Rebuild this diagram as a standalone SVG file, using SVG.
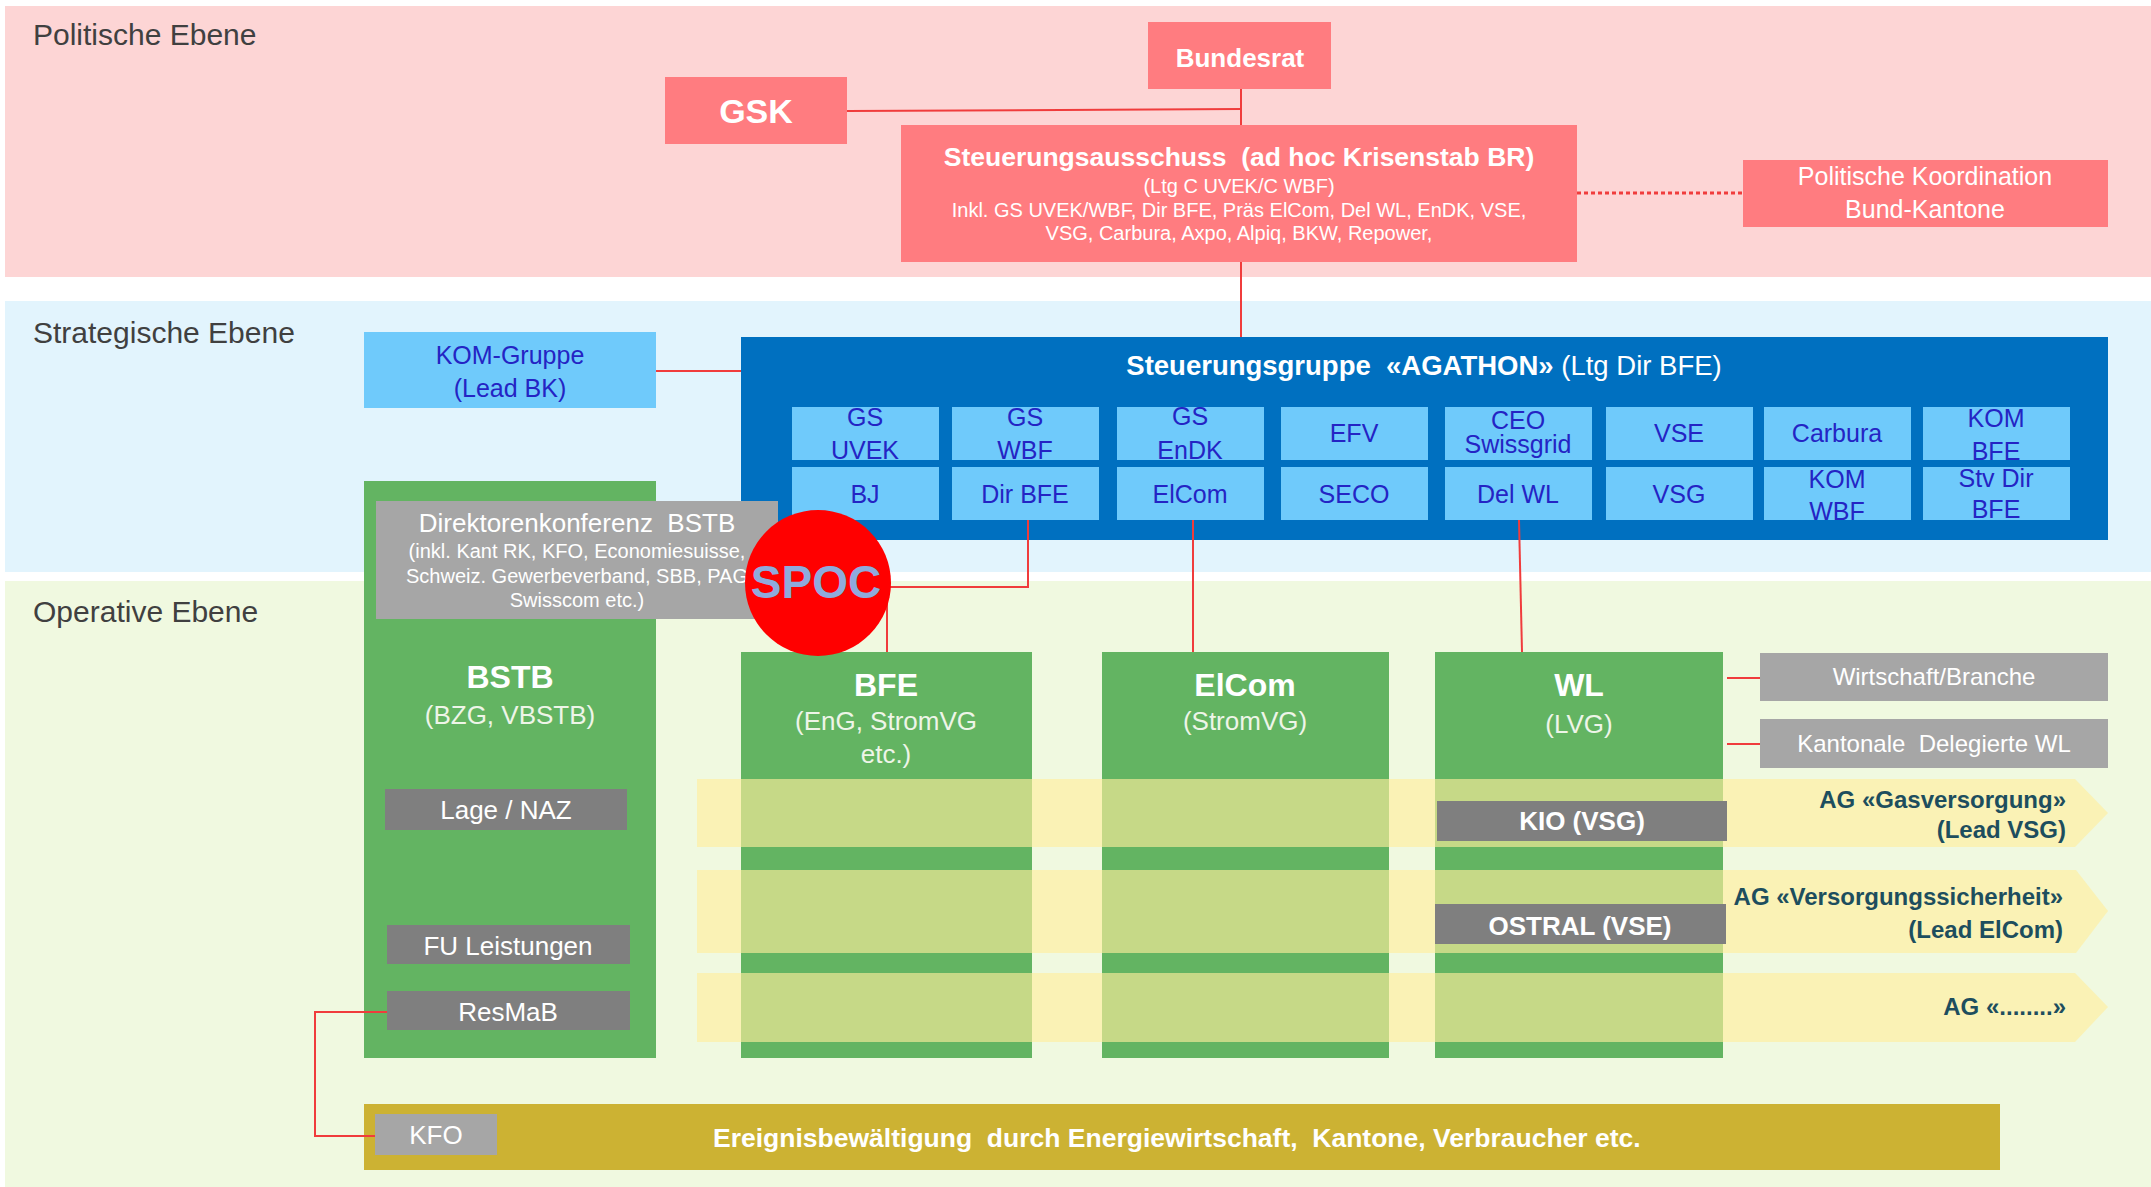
<svg xmlns="http://www.w3.org/2000/svg" width="2151" height="1187" viewBox="0 0 2151 1187">
<style>
text{font-family:"Liberation Sans",Arial,sans-serif;white-space:pre}
.lvl{font-size:30px;fill:#404040}
.red{fill:#FF7C80}
.wb{fill:#fff;font-weight:bold}
.w{fill:#fff}
.cell{fill:#6FCAFB}
.ct{fill:#2424C4;font-size:25px;text-anchor:middle}
.grn{fill:#63B462}
.gl{fill:#A6A6A6}
.gd{fill:#7F7F7F}
.mid{text-anchor:middle}
.sub{fill:#EEF5E8;font-size:26px;text-anchor:middle}
.ag{fill:#FFEE9D;fill-opacity:0.64}
.agt{fill:#1D4E5E;font-weight:bold;font-size:24px;text-anchor:end}
.ln{stroke:#F03C3C;stroke-width:2;fill:none}
</style>

<g id="bands">
<rect x="5" y="6" width="2146" height="271" fill="#FDD5D5"/>
<rect x="5" y="301" width="2146" height="271" fill="#E2F4FD"/>
<rect x="5" y="581" width="2146" height="606" fill="#F0F9E0"/>
<text class="lvl" x="33" y="45">Politische Ebene</text>
<text class="lvl" x="33" y="343">Strategische Ebene</text>
<text class="lvl" x="33" y="622">Operative Ebene</text>
</g>

<g id="bundesrat">
<rect class="red" x="1148" y="22" width="183" height="67"/>
<text class="wb mid" x="1240" y="67" font-size="26">Bundesrat</text>
</g>

<g id="gsk">
<rect class="red" x="665" y="77" width="182" height="67"/>
<text class="wb mid" x="756" y="123" font-size="34">GSK</text>
</g>

<g id="steuerungsausschuss">
<rect class="red" x="901" y="125" width="676" height="137"/>
<text class="wb mid" x="1239" y="166" font-size="26.5">Steuerungsausschuss  (ad hoc Krisenstab BR)</text>
<text class="w mid" x="1239" y="193" font-size="20">(Ltg C UVEK/C WBF)</text>
<text class="w mid" x="1239" y="217" font-size="20">Inkl. GS UVEK/WBF, Dir BFE, Präs ElCom, Del WL, EnDK, VSE,</text>
<text class="w mid" x="1239" y="240" font-size="20">VSG, Carbura, Axpo, Alpiq, BKW, Repower,</text>
</g>

<g id="polkoord">
<rect class="red" x="1743" y="160" width="365" height="67"/>
<text class="w mid" x="1925" y="185" font-size="25">Politische Koordination</text>
<text class="w mid" x="1925" y="218" font-size="25">Bund-Kantone</text>
</g>

<g id="kom-gruppe">
<rect class="cell" x="364" y="332" width="292" height="76"/>
<text class="ct" x="510" y="364" font-size="26">KOM-Gruppe</text>
<text class="ct" x="510" y="397" font-size="26">(Lead BK)</text>
</g>

<g id="bstb">
<rect class="grn" x="364" y="481" width="292" height="577"/>
<text class="wb mid" x="510" y="688" font-size="32">BSTB</text>
<text class="sub" x="510" y="724">(BZG, VBSTB)</text>
</g>

<g id="agathon">
<rect x="741" y="337" width="1367" height="203" fill="#0070C0"/>
<text class="mid" x="1424" y="375" font-size="27.5" fill="#fff"><tspan font-weight="bold">Steuerungsgruppe  «AGATHON»</tspan> (Ltg Dir BFE)</text>
<rect class="cell" x="792" y="407" width="147" height="53"/>
<rect class="cell" x="952" y="407" width="147" height="53"/>
<rect class="cell" x="1117" y="407" width="147" height="53"/>
<rect class="cell" x="1281" y="407" width="147" height="53"/>
<rect class="cell" x="1445" y="407" width="147" height="53"/>
<rect class="cell" x="1606" y="407" width="147" height="53"/>
<rect class="cell" x="1764" y="407" width="147" height="53"/>
<rect class="cell" x="1923" y="407" width="147" height="53"/>
<rect class="cell" x="792" y="467" width="147" height="53"/>
<rect class="cell" x="952" y="467" width="147" height="53"/>
<rect class="cell" x="1117" y="467" width="147" height="53"/>
<rect class="cell" x="1281" y="467" width="147" height="53"/>
<rect class="cell" x="1445" y="467" width="147" height="53"/>
<rect class="cell" x="1606" y="467" width="147" height="53"/>
<rect class="cell" x="1764" y="467" width="147" height="53"/>
<rect class="cell" x="1923" y="467" width="147" height="53"/>
<text class="ct" x="865" y="426">GS</text><text class="ct" x="865" y="459">UVEK</text>
<text class="ct" x="1025" y="426">GS</text><text class="ct" x="1025" y="459">WBF</text>
<text class="ct" x="1190" y="425">GS</text><text class="ct" x="1190" y="459">EnDK</text>
<text class="ct" x="1354" y="442">EFV</text>
<text class="ct" x="1518" y="429" font-size="19">CEO</text><text class="ct" x="1518" y="453" font-size="19">Swissgrid</text>
<text class="ct" x="1679" y="442">VSE</text>
<text class="ct" x="1837" y="442">Carbura</text>
<text class="ct" x="1996" y="427">KOM</text><text class="ct" x="1996" y="460">BFE</text>
<text class="ct" x="865" y="503">BJ</text>
<text class="ct" x="1025" y="503">Dir BFE</text>
<text class="ct" x="1190" y="503">ElCom</text>
<text class="ct" x="1354" y="503">SECO</text>
<text class="ct" x="1518" y="503">Del WL</text>
<text class="ct" x="1679" y="503">VSG</text>
<text class="ct" x="1837" y="488">KOM</text><text class="ct" x="1837" y="520">WBF</text>
<text class="ct" x="1996" y="487">Stv Dir</text><text class="ct" x="1996" y="518">BFE</text>
</g>

<g id="direktorenkonferenz">
<rect class="gl" x="376" y="501" width="402" height="118"/>
<text class="w mid" x="577" y="532" font-size="26">Direktorenkonferenz  BSTB</text>
<text class="w mid" x="577" y="558" font-size="20">(inkl. Kant RK, KFO, Economiesuisse,</text>
<text class="w mid" x="577" y="583" font-size="20">Schweiz. Gewerbeverband, SBB, PAG</text>
<text class="w mid" x="577" y="607" font-size="20">Swisscom etc.)</text>
</g>

<g id="bfe">
<rect class="grn" x="741" y="652" width="291" height="406"/>
<text class="wb mid" x="886" y="696" font-size="32">BFE</text>
<text class="sub" x="886" y="730">(EnG, StromVG</text>
<text class="sub" x="886" y="763">etc.)</text>
</g>

<g id="elcom">
<rect class="grn" x="1102" y="652" width="287" height="406"/>
<text class="wb mid" x="1245" y="696" font-size="32">ElCom</text>
<text class="sub" x="1245" y="730">(StromVG)</text>
</g>

<g id="wl">
<rect class="grn" x="1435" y="652" width="288" height="406"/>
<text class="wb mid" x="1579" y="696" font-size="32">WL</text>
<text class="sub" x="1579" y="733">(LVG)</text>
</g>

<g id="lage-naz">
<rect class="gd" x="385" y="789" width="242" height="41"/>
<text class="w mid" x="506" y="819" font-size="26">Lage / NAZ</text>
</g>
<g id="fu-leistungen">
<rect class="gd" x="387" y="925" width="243" height="39"/>
<text class="w mid" x="508" y="955" font-size="26">FU Leistungen</text>
</g>
<g id="resmab">
<rect class="gd" x="387" y="991" width="243" height="39"/>
<text class="w mid" x="508" y="1021" font-size="26">ResMaB</text>
</g>

<g id="ag-gas">
<polygon class="ag" points="697,779 2075,779 2108,813 2075,847 697,847"/>
<text class="agt" x="2066" y="808">AG «Gasversorgung»</text>
<text class="agt" x="2066" y="838">(Lead VSG)</text>
</g>
<g id="ag-versorgung">
<polygon class="ag" points="697,870 2076,870 2108,911 2076,953 697,953"/>
<text class="agt" x="2063" y="905">AG «Versorgungssicherheit»</text>
<text class="agt" x="2063" y="938">(Lead ElCom)</text>
</g>
<g id="ag-other">
<polygon class="ag" points="697,973 2075,973 2108,1007 2075,1042 697,1042"/>
<text class="agt" x="2066" y="1015">AG «........»</text>
</g>

<g id="kio">
<rect class="gd" x="1437" y="801" width="290" height="40"/>
<text class="wb mid" x="1582" y="830" font-size="26">KIO (VSG)</text>
</g>
<g id="ostral">
<rect class="gd" x="1435" y="904" width="291" height="40"/>
<text class="wb mid" x="1580" y="935" font-size="26">OSTRAL (VSE)</text>
</g>

<g id="wirtschaft">
<rect class="gl" x="1760" y="653" width="348" height="48"/>
<text class="w mid" x="1934" y="685" font-size="24">Wirtschaft/Branche</text>
</g>
<g id="kantonale">
<rect class="gl" x="1760" y="719" width="348" height="49"/>
<text class="w mid" x="1934" y="752" font-size="24">Kantonale  Delegierte WL</text>
</g>

<g id="ereignis">
<rect x="364" y="1104" width="1636" height="66" fill="#CCB233"/>
<text class="wb" x="713" y="1147" font-size="26.5">Ereignisbewältigung  durch Energiewirtschaft,  Kantone, Verbraucher etc.</text>
</g>
<g id="kfo">
<rect class="gl" x="375" y="1114" width="122" height="41"/>
<text class="w mid" x="436" y="1144" font-size="26">KFO</text>
</g>

<g id="connectors">
<polyline class="ln" points="847,111 1241,109"/>
<line class="ln" x1="1241" y1="89" x2="1241" y2="125"/>
<line class="ln" x1="1241" y1="262" x2="1241" y2="337"/>
<line x1="1577" y1="193" x2="1743" y2="193" stroke="#F03C3C" stroke-width="3" stroke-dasharray="4,3"/>
<line class="ln" x1="656" y1="371" x2="741" y2="371"/>
<polyline class="ln" points="1028,520 1028,587 887,587 887,652"/>
<line class="ln" x1="1193" y1="520" x2="1193" y2="652"/>
<line class="ln" x1="1519" y1="520" x2="1522" y2="652"/>
<line class="ln" x1="1727" y1="678" x2="1760" y2="678"/>
<line class="ln" x1="1727" y1="744" x2="1760" y2="744"/>
<polyline class="ln" points="387,1012 315,1012 315,1136 375,1136"/>
</g>

<g id="spoc">
<circle cx="818" cy="583" r="73" fill="#FF0000"/>
<text class="mid" x="816" y="598" font-size="46" font-weight="bold" fill="#8FAADC">SPOC</text>
</g>
</svg>
